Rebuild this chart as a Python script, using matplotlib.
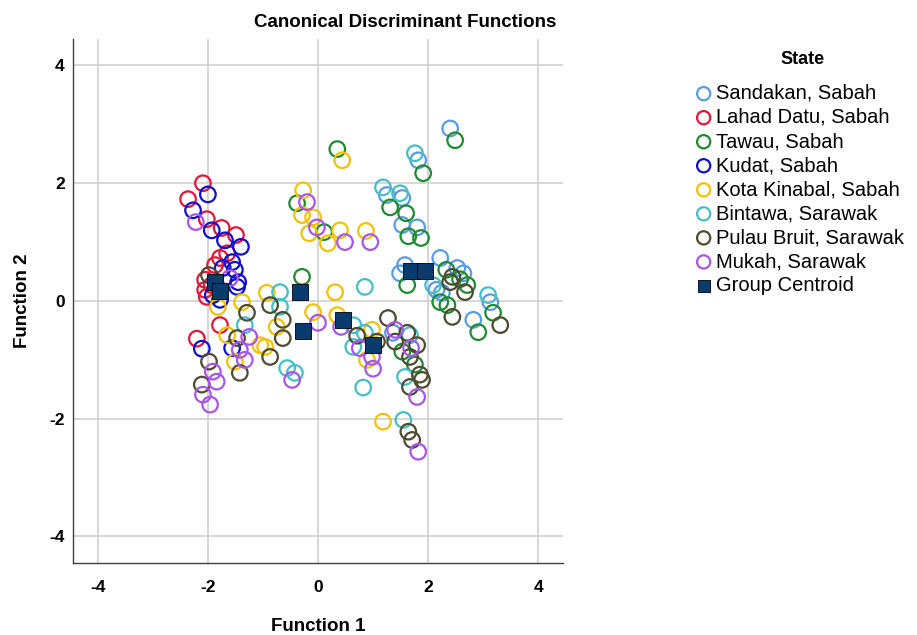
# Canonical discriminant functions scatter (SPSS style)

import matplotlib
matplotlib.use('Agg')
import matplotlib.pyplot as plt

plt.rcParams['font.family'] = ['Liberation Sans', 'DejaVu Sans']
plt.rcParams['axes.unicode_minus'] = False

# scores per group: (Function 1, Function 2)
sandakan_x = [2.40, 1.82, 1.25, 1.53, 1.53, 1.80, 1.58, 1.49, 2.22, 2.53, 2.64, 2.15, 2.25, 3.13, 2.82, 1.36]
sandakan_y = [2.93, 2.39, 1.80, 1.75, 1.29, 1.25, 0.61, 0.47, 0.73, 0.56, 0.47, 0.19, 0.14, -0.02, -0.32, -0.54]

lahad_x = [-2.09, -2.36, -2.02, -1.75, -1.49, -1.78, -1.65, -2.05, -2.05, -2.02, -1.78, -2.20, -1.87, -1.93]
lahad_y = [2.00, 1.73, 1.39, 1.24, 1.12, 0.73, 0.81, 0.36, 0.19, 0.07, -0.41, -0.64, 0.61, 0.27]

tawau_x = [0.35, 2.49, 1.91, 1.31, 1.60, 1.64, 1.87, -0.38, 0.11, -0.29, 1.62, 2.33, 2.58, 2.71,
           2.22, 2.35, 3.18, 2.91, 1.53, 1.76]
tawau_y = [2.58, 2.73, 2.17, 1.59, 1.49, 1.10, 1.07, 1.66, 1.17, 0.41, 0.27, 0.53, 0.37, 0.27,
           -0.02, -0.07, -0.20, -0.53, -0.86, -1.08]

kudat_x = [-2.00, -2.27, -1.93, -1.69, -1.40, -1.56, -1.51, -1.73, -1.45, -1.91, -1.47, -1.78, -2.11, -1.56]
kudat_y = [1.81, 1.54, 1.20, 1.03, 0.92, 0.66, 0.53, 0.56, 0.32, 0.10, 0.24, 0.02, -0.81, -0.80]

kota_x = [0.44, -0.27, -0.29, -0.09, -0.16, 0.18, 0.40, 0.87, -0.93, 0.31, -0.09, -0.75, -1.05, -0.96,
          -1.82, -1.38, -1.65, -1.51, 0.35, 0.98, 0.89, 1.18]
kota_y = [2.39, 1.88, 1.46, 1.42, 1.15, 0.98, 1.20, 1.19, 0.14, 0.15, -0.19, -0.44, -0.75, -0.78,
          -0.10, -0.02, -0.58, -1.03, -0.24, -0.49, -1.00, -2.05]

bintawa_x = [1.76, 1.18, 1.49, -0.69, 0.85, -0.69, -1.33, -0.56, -0.42, 0.64, 0.85, 0.64, 0.82,
             2.09, 3.09, 1.67, 1.58, 1.55]
bintawa_y = [2.51, 1.93, 1.83, 0.15, 0.24, -0.10, -0.41, -1.14, -1.22, -0.41, -0.54, -0.78, -1.47,
             0.27, 0.10, -0.58, -1.29, -2.02]

pulau_x = [-1.98, -1.29, -0.87, -0.64, -1.47, -0.87, -0.64, -1.42, -1.98, -2.11, 0.71, 1.07, 1.27,
           1.40, 1.62, 1.80, 1.67, 1.85, 1.89, 1.67, 1.64, 1.71, 2.40, 2.44, 2.67, 2.44, 3.31]
pulau_y = [0.44, -0.20, -0.07, -0.32, -0.63, -0.95, -0.63, -1.22, -1.03, -1.42, -0.59, -0.69, -0.29,
           -0.69, -0.54, -0.75, -0.95, -1.25, -1.34, -1.46, -2.22, -2.36, 0.32, 0.41, 0.15, -0.27, -0.41]

mukah_x = [-2.22, -1.60, -1.25, -1.42, -1.33, -1.91, -1.84, -2.09, -1.96, -0.20, -0.02, 0.49, 0.95,
           0.00, -0.47, 0.42, 0.76, 0.98, 1.00, 1.40, 1.69, 1.80, 1.82]
mukah_y = [1.34, 0.39, -0.61, -0.83, -1.00, -1.20, -1.37, -1.59, -1.76, 1.68, 1.25, 1.00, 1.00,
           -0.37, -1.34, -0.44, -0.80, -0.95, -1.15, -0.49, -0.80, -1.63, -2.56]

centroid_x = [-1.87, -1.78, -0.33, -0.27, 0.45, 1.00, 1.69, 1.95]
centroid_y = [0.33, 0.17, 0.15, -0.51, -0.32, -0.75, 0.51, 0.51]

groups = [
    ('Sandakan, Sabah', sandakan_x, sandakan_y, '#5A9AE6'),
    ('Lahad Datu, Sabah', lahad_x, lahad_y, '#E0163A'),
    ('Tawau, Sabah', tawau_x, tawau_y, '#1F8B30'),
    ('Kudat, Sabah', kudat_x, kudat_y, '#1010CC'),
    ('Kota Kinabal, Sabah', kota_x, kota_y, '#F2C200'),
    ('Bintawa, Sarawak', bintawa_x, bintawa_y, '#45BFC4'),
    ('Pulau Bruit, Sarawak', pulau_x, pulau_y, '#4D4B30'),
    ('Mukah, Sarawak', mukah_x, mukah_y, '#A855E8'),
]

fig = plt.figure(figsize=(9.17, 6.35), dpi=100)
ax = fig.add_axes([0.0796, 0.1134, 0.5344, 0.8252])

for name, xs, ys, col in groups:
    ax.scatter(xs, ys, s=125, facecolors='none', edgecolors=col, linewidths=1.6,
               label=name, zorder=3)
ax.scatter(centroid_x, centroid_y, s=120, marker='s', color='#0A3B6E', edgecolors='black',
           linewidths=0.6, label='Group Centroid', zorder=4)

ax.set_xlim(-4.45, 4.45)
ax.set_ylim(-4.45, 4.45)
ax.set_xticks([-4, -2, 0, 2, 4])
ax.set_yticks([-4, -2, 0, 2, 4])
ax.grid(True, color='#cfcfcf', linewidth=1.2, zorder=0)
ax.set_axisbelow(True)
for side in ['top', 'right']:
    ax.spines[side].set_visible(False)
for side in ['left', 'bottom']:
    ax.spines[side].set_color('#404040')
    ax.spines[side].set_linewidth(1.0)
ax.tick_params(axis='x', length=0, pad=12, labelsize=12.5)
ax.tick_params(axis='y', length=0, pad=6, labelsize=12.5)
for lab in ax.get_xticklabels() + ax.get_yticklabels():
    lab.set_fontweight('bold')

ax.set_xlabel('Function 1', fontsize=13.5, fontweight='bold')
ax.set_ylabel('Function 2', fontsize=13.5, fontweight='bold')
ax.xaxis.label.set_va('center')
ax.yaxis.label.set_va('center')
ax.xaxis.set_label_coords(0.5, -0.122)
ax.yaxis.set_label_coords(-0.104, 0.5)

fig.text(0.442, 0.965, 'Canonical Discriminant Functions', ha='center', va='center',
         fontsize=13.5, fontweight='bold')

fig.text(803 / 917, 1 - 60 / 635, 'State', ha='center', va='center',
         fontsize=13, fontweight='bold')
leg = fig.legend(loc='upper left', bbox_to_anchor=(0.741, 0.89), frameon=False,
                 fontsize=14.5, handletextpad=0.1, labelspacing=0.25,
                 handlelength=1.0, borderpad=0.2, markerscale=0.85)

fig.savefig('out.png', dpi=100)
